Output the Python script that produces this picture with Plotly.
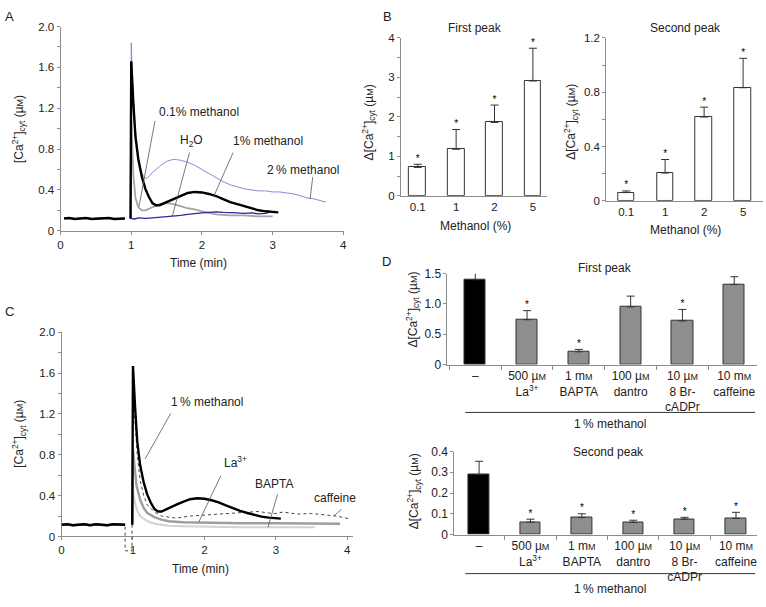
import plotly.graph_objects as go

W, H = 766, 607
FONT = "Liberation Sans, Arial, Helvetica, sans-serif"
AX = "#8c8c8c"
TXT = "#222222"
SM = "<span style='font-size:9px'>M</span>"

# ---------------- Panel A data ----------------
A_base_t = [0.05, 0.12, 0.2, 0.28, 0.36, 0.44, 0.52, 0.6, 0.68, 0.76, 0.84, 0.91]
A_base_v = [0.12, 0.125, 0.115, 0.12, 0.125, 0.115, 0.12, 0.12, 0.125, 0.115, 0.12, 0.12]

A_m2_t = [0.99, 1.0, 1.02, 1.05, 1.1, 1.15, 1.2, 1.25, 1.3, 1.4, 1.5, 1.6, 1.7, 1.8, 1.9, 2.0,
          2.1, 2.2, 2.3, 2.4, 2.5, 2.6, 2.7, 2.8, 2.9, 3.0, 3.1, 3.2, 3.3, 3.4, 3.5, 3.6, 3.75]
A_m2_v = [0.12, 1.84, 1.45, 1.05, 0.72, 0.56, 0.51, 0.53, 0.57, 0.63, 0.68, 0.70, 0.69, 0.67, 0.64, 0.60,
          0.56, 0.52, 0.48, 0.45, 0.43, 0.41, 0.40, 0.39, 0.39, 0.38, 0.38, 0.37, 0.36, 0.34, 0.32, 0.31, 0.28]

A_m01_t = [0.99, 1.0, 1.03, 1.06, 1.1, 1.15, 1.2, 1.3, 1.4, 1.5, 1.6, 1.7, 1.8, 1.9, 2.0, 2.2, 2.4, 2.6, 2.8, 3.0]
A_m01_v = [0.12, 1.10, 0.55, 0.32, 0.23, 0.20, 0.20, 0.23, 0.26, 0.27, 0.26, 0.24, 0.22, 0.21, 0.19, 0.16, 0.15, 0.15, 0.14, 0.14]

A_h2o_t = [0.985, 1.05, 1.1, 1.2, 1.3, 1.4, 1.5, 1.6, 1.7, 1.8, 1.9, 2.0, 2.1, 2.2, 2.3, 2.4, 2.5, 2.6, 2.7, 2.8, 2.9, 2.95]
A_h2o_v = [0.12, 0.115, 0.125, 0.12, 0.125, 0.13, 0.135, 0.14, 0.15, 0.16, 0.17, 0.175, 0.18, 0.185, 0.18, 0.18,
           0.175, 0.17, 0.175, 0.165, 0.17, 0.18]

A_m1_t = [0.99, 1.0, 1.03, 1.06, 1.1, 1.15, 1.2, 1.25, 1.3, 1.35, 1.4, 1.5, 1.6, 1.7, 1.8, 1.9, 2.0, 2.1,
          2.2, 2.3, 2.4, 2.5, 2.6, 2.7, 2.8, 2.9, 3.0, 3.08]
A_m1_v = [0.12, 1.66, 1.25, 0.92, 0.70, 0.53, 0.41, 0.33, 0.27, 0.25, 0.25, 0.28, 0.31, 0.34, 0.37, 0.38, 0.375, 0.36,
          0.34, 0.31, 0.28, 0.26, 0.24, 0.22, 0.20, 0.19, 0.185, 0.18]

A_labels = ["0.1% methanol", "H<sub>2</sub>O", "1% methanol", "2\u2009% methanol"]
A_label_t = [1.96, 1.85, 2.93, 3.43]
A_label_v = [1.16, 0.88, 0.88, 0.59]
A_lead_from = [(1.34, 1.09), (1.83, 0.78), (2.45, 0.78), (3.57, 0.54)]
A_lead_to = [(1.11, 0.24), (1.58, 0.14), (2.17, 0.34), (3.53, 0.31)]

# ---------------- Panel B data ----------------
B_cats = ["0.1", "1", "2", "5"]
B1_mean = [0.72, 1.18, 1.86, 2.91]
B1_err = [0.08, 0.50, 0.44, 0.83]
B2_mean = [0.06, 0.204, 0.617, 0.833]
B2_err = [0.012, 0.10, 0.073, 0.217]

# ---------------- Panel C data ----------------
C_base_t = [0.0, 0.08, 0.16, 0.24, 0.32, 0.4, 0.48, 0.56, 0.64, 0.72, 0.8, 0.89]
C_base_v = [0.115, 0.12, 0.11, 0.115, 0.12, 0.11, 0.12, 0.115, 0.11, 0.12, 0.115, 0.115]

C_m1_t = [0.99, 1.0, 1.03, 1.06, 1.1, 1.15, 1.2, 1.25, 1.3, 1.35, 1.4, 1.5, 1.6, 1.7, 1.8, 1.9, 2.0, 2.1,
          2.2, 2.3, 2.4, 2.5, 2.6, 2.7, 2.8, 2.9, 3.0, 3.07]
C_m1_v = [0.115, 1.67, 1.26, 0.93, 0.70, 0.53, 0.41, 0.33, 0.27, 0.245, 0.245, 0.28, 0.31, 0.34, 0.365, 0.375, 0.37, 0.355,
          0.335, 0.305, 0.275, 0.25, 0.23, 0.21, 0.195, 0.185, 0.18, 0.175]
C_la_t = [0.99, 1.0, 1.02, 1.05, 1.1, 1.15, 1.2, 1.3, 1.4, 1.5, 1.7, 2.0, 2.5, 3.0, 3.5, 3.9]
C_la_v = [0.115, 0.86, 0.70, 0.50, 0.36, 0.28, 0.23, 0.19, 0.165, 0.15, 0.14, 0.135, 0.13, 0.13, 0.13, 0.125]
C_bapta_t = [0.99, 1.0, 1.03, 1.06, 1.1, 1.2, 1.3, 1.5, 1.7, 2.0, 2.5, 3.0, 3.55]
C_bapta_v = [0.115, 0.45, 0.32, 0.25, 0.20, 0.15, 0.125, 0.105, 0.10, 0.095, 0.09, 0.09, 0.09]
C_caf_t = [0.89, 0.985, 1.0, 1.03, 1.06, 1.1, 1.15, 1.2, 1.3, 1.4, 1.5, 1.6, 1.8, 2.0, 2.2, 2.4, 2.6,
           2.75, 2.9, 3.0, 3.1, 3.3, 3.5, 3.7, 3.85, 4.05]
C_caf_v = [-0.14, -0.14, 1.43, 1.1, 0.8, 0.55, 0.4, 0.31, 0.24, 0.2, 0.19, 0.18, 0.2, 0.21, 0.22, 0.23, 0.235,
           0.245, 0.23, 0.225, 0.24, 0.22, 0.225, 0.21, 0.2, 0.17]

C_labels = ["1\u2009% methanol", "La<sup>3+</sup>", "BAPTA", "caffeine"]
C_label_t = [2.03, 2.44, 2.97, 3.83]
C_label_v = [1.32, 0.73, 0.51, 0.38]
C_lead_from = [(1.54, 1.22), (2.24, 0.61), (3.03, 0.43), (3.94, 0.28)]
C_lead_to = [(1.17, 0.76), (1.92, 0.14), (2.89, 0.09), (3.81, 0.20)]

# ---------------- Panel D data ----------------
D_cats = ["ctrl", "La", "BAPTA", "dantro", "8Br", "caff"]
D_ticktext = ["\u2013",
              "500 \u00b5" + SM + "<br>La<sup>3+</sup>",
              "1 m" + SM + "<br>BAPTA",
              "100 \u00b5" + SM + "<br>dantro",
              "10 \u00b5" + SM + "<br>8 Br-<br>cADPr",
              "10 m" + SM + "<br>caffeine"]
D1_mean = [1.40, 0.74, 0.21, 0.95, 0.72, 1.32]
D1_err = [0.12, 0.15, 0.04, 0.18, 0.19, 0.13]
D1_star = [False, True, True, False, True, False]
D2_mean = [0.29, 0.06, 0.082, 0.058, 0.074, 0.078]
D2_err = [0.063, 0.014, 0.018, 0.011, 0.009, 0.029]
D2_star = [False, True, True, True, True, True]

# ---------------- helpers ----------------
def fx(p):
    return p / W

def fy(p):
    return 1 - p / H

def xdom(a, b):
    return [fx(a), fx(b)]

def ydom(top, bottom):
    return [fy(bottom), fy(top)]

fig = go.Figure()

def trace_line(bt, bv, rt, rv, color, width, xa, ya, dash="solid", gap=True):
    xs = list(bt) + ([None] if gap else []) + list(rt)
    ys = list(bv) + ([None] if gap else []) + list(rv)
    fig.add_trace(go.Scatter(x=xs, y=ys, mode="lines", xaxis=xa, yaxis=ya,
                             line=dict(color=color, width=width, dash=dash),
                             connectgaps=False, hoverinfo="skip"))

# Panel A traces
trace_line(A_base_t, A_base_v, A_m2_t, A_m2_v, "#8a8ad8", 1.0, "x", "y")
trace_line(A_base_t, A_base_v, A_m01_t, A_m01_v, "#a6a6a6", 1.8, "x", "y")
trace_line(A_base_t, A_base_v, A_h2o_t, A_h2o_v, "#2b2b8f", 1.3, "x", "y")
trace_line(A_base_t, A_base_v, A_m1_t, A_m1_v, "#000000", 2.4, "x", "y")

# Panel C traces (drawn on extended hidden axes x7/y7)
trace_line(C_base_t, C_base_v, C_bapta_t, C_bapta_v, "#d2d2d2", 2.0, "x7", "y7")
trace_line(C_base_t, C_base_v, C_la_t, C_la_v, "#9e9e9e", 2.4, "x7", "y7")
trace_line(C_base_t, C_base_v, C_caf_t, C_caf_v, "#444444", 1.0, "x7", "y7", dash="dot", gap=False)
trace_line(C_base_t, C_base_v, C_m1_t, C_m1_v, "#000000", 2.4, "x7", "y7")

err_style = dict(type="data", symmetric=False, color="#333333", thickness=1, width=4)

def bars(cats, means, errs, xa, ya, colors, width):
    fig.add_trace(go.Bar(x=cats, y=means, xaxis=xa, yaxis=ya, width=width,
                         marker=dict(color=colors, line=dict(color="#333333", width=1)),
                         error_y=dict(array=errs, arrayminus=[0] * len(errs), **err_style),
                         hoverinfo="skip"))

def stars(cats, means, errs, flags, xa, ya):
    xs = [c for c, f in zip(cats, flags) if f]
    ys = [m + e for m, e, f in zip(means, errs, flags) if f]
    fig.add_trace(go.Scatter(x=xs, y=ys, mode="text", text=["*"] * len(xs),
                             textposition="top center", xaxis=xa, yaxis=ya,
                             textfont=dict(size=10, color="#000000", family=FONT), hoverinfo="skip"))

bars(B_cats, B1_mean, B1_err, "x2", "y2", "white", 0.44)
stars(B_cats, B1_mean, B1_err, [True] * 4, "x2", "y2")
bars(B_cats, B2_mean, B2_err, "x3", "y3", "white", 0.43)
stars(B_cats, B2_mean, B2_err, [True] * 4, "x3", "y3")

D_colors = ["#000000"] + ["#8e8e8e"] * 5
bars(D_cats, D1_mean, D1_err, "x5", "y5", D_colors, 0.41)
stars(D_cats, D1_mean, D1_err, D1_star, "x5", "y5")
bars(D_cats, D2_mean, D2_err, "x6", "y6", D_colors, 0.40)
stars(D_cats, D2_mean, D2_err, D2_star, "x6", "y6")

base_ax = dict(showgrid=False, zeroline=False, showline=True, linecolor=AX, linewidth=1,
               ticks="outside", tickcolor=AX, ticklen=3, tickwidth=1,
               tickfont=dict(size=11.5, color=TXT, family=FONT), fixedrange=True)

time_ticks = [0, 1, 2, 3, 4]
time_text = ["0", "1", "2", "3", "4"]
ca_ticks = [0, 0.4, 0.8, 1.2, 1.6, 2.0]
ca_text = ["0", "0.4", "0.8", "1.2", "1.6", "2.0"]
minor02 = dict(dtick=0.2, ticks="outside", ticklen=3, tickcolor=AX)

lay = dict(
    width=W, height=H, margin=dict(l=0, r=0, t=0, b=0),
    paper_bgcolor="white", plot_bgcolor="rgba(0,0,0,0)", showlegend=False,
    font=dict(family=FONT, size=12, color=TXT), bargap=0,
    # Panel A
    xaxis=dict(base_ax, domain=xdom(58, 344), range=[0, 4.014], anchor="y",
               tickmode="array", tickvals=time_ticks, ticktext=time_text),
    yaxis=dict(base_ax, domain=ydom(20, 229), range=[0, 2], anchor="x",
               tickmode="array", tickvals=ca_ticks, ticktext=ca_text, minor=minor02),
    # Panel B first peak
    xaxis2=dict(base_ax, domain=xdom(401, 548), range=[-0.44, 3.36], anchor="y2",
                type="category", ticks=""),
    yaxis2=dict(base_ax, domain=ydom(31.7, 193.3), range=[0, 4], anchor="x2",
                tickmode="array", tickvals=[0, 1, 2, 3, 4], ticktext=["0", "1", "2", "3", "4"],
                minor=dict(dtick=0.5, ticks="outside", ticklen=3, tickcolor=AX)),
    # Panel B second peak
    xaxis3=dict(base_ax, domain=xdom(608, 766), range=[-0.51, 3.51], anchor="y3",
                type="category", ticks=""),
    yaxis3=dict(base_ax, domain=ydom(31.7, 198.3), range=[0, 1.2], anchor="x3",
                tickmode="array", tickvals=[0, 0.4, 0.8, 1.2], ticktext=["0", "0.4", "0.8", "1.2"],
                minor=minor02),
    # Panel C visible axes
    xaxis4=dict(base_ax, domain=xdom(59, 353), range=[0, 4.0833], anchor="y4",
                tickmode="array", tickvals=time_ticks, ticktext=time_text),
    yaxis4=dict(base_ax, domain=ydom(333, 542), range=[0, 2], anchor="x4",
                tickmode="array", tickvals=ca_ticks, ticktext=ca_text, minor=minor02),
    # Panel C hidden extended axes carrying the traces
    xaxis7=dict(domain=xdom(59, 353), range=[0, 4.0833], anchor="y7", visible=False, fixedrange=True),
    yaxis7=dict(domain=ydom(333, 562), range=[-(562 - 542) / 104.5, 2], anchor="x7", visible=False,
                fixedrange=True),
    # Panel D first peak
    xaxis5=dict(base_ax, domain=xdom(448, 760), range=[-0.536, 5.44], anchor="y5",
                type="category", tickmode="array", tickvals=D_cats, ticktext=D_ticktext,
                tickson="boundaries", ticklen=4, tickangle=0,
                tickfont=dict(size=12, color=TXT, family=FONT)),
    yaxis5=dict(base_ax, domain=ydom(273, 366), range=[0, 1.5], anchor="x5",
                tickmode="array", tickvals=[0, 0.5, 1.0, 1.5], ticktext=["0", "0.5", "1.0", "1.5"],
                tickfont=dict(size=12, color=TXT, family=FONT)),
    # Panel D second peak
    xaxis6=dict(base_ax, domain=xdom(455, 760), range=[-0.48, 5.41], anchor="y6",
                type="category", tickmode="array", tickvals=D_cats, ticktext=D_ticktext,
                tickson="boundaries", ticklen=4, tickangle=0,
                tickfont=dict(size=12, color=TXT, family=FONT)),
    yaxis6=dict(base_ax, domain=ydom(455, 540), range=[0, 0.4], anchor="x6",
                tickmode="array", tickvals=[0, 0.1, 0.2, 0.3, 0.4],
                ticktext=["0", "0.1", "0.2", "0.3", "0.4"],
                tickfont=dict(size=12, color=TXT, family=FONT)),
)
fig.update_layout(**lay)

ann = []

def paper_text(text, x, y, size=12, angle=0, xanchor="center"):
    ann.append(dict(text=text, x=fx(x), y=fy(y), xref="paper", yref="paper", showarrow=False,
                    xanchor=xanchor, yanchor="middle", textangle=angle,
                    font=dict(size=size, color=TXT, family=FONT)))

# panel letters
paper_text("A", 7, 10, 13)
paper_text("B", 388, 10, 13)
paper_text("C", 7, 312, 13)
paper_text("D", 387, 260, 13)

ca_title = "[Ca<sup>2+</sup>]<sub>cyt</sub> (\u00b5" + SM + ")"
dca_title = "\u0394[Ca<sup>2+</sup>]<sub>cyt</sub> (\u00b5" + SM + ")"
paper_text(ca_title, 16, 125, 12, -90)
paper_text(ca_title, 16, 437, 12, -90)
paper_text(dca_title, 369, 118, 12, -90)
paper_text(dca_title, 573, 118, 12, -90)
paper_text(dca_title, 413, 310, 12, -90)
paper_text(dca_title, 414, 496, 12, -90)

paper_text("Time (min)", 197, 262)
paper_text("Time (min)", 199, 575)
paper_text("Methanol (%)", 476, 224)
paper_text("Methanol (%)", 688, 228)
paper_text("First peak", 476, 21)
paper_text("Second peak", 688, 21)
paper_text("First peak", 607, 267)
paper_text("Second peak", 610, 456)
paper_text("1\u2009% methanol", 612, 427)
paper_text("1\u2009% methanol", 612, 596)

def curve_labels(labels, lt, lv, lfrom, lto, xr, yr):
    for t, x0, y0, a, b in zip(labels, lt, lv, lfrom, lto):
        ann.append(dict(text=t, x=x0, y=y0, xref=xr, yref=yr, showarrow=False,
                        font=dict(size=12, color=TXT, family=FONT)))
        ann.append(dict(text="", x=b[0], y=b[1], ax=a[0], ay=a[1], xref=xr, yref=yr,
                        axref=xr, ayref=yr, showarrow=True, arrowhead=0, arrowwidth=0.8,
                        arrowcolor="#555555", standoff=0, startstandoff=0))

curve_labels(A_labels, A_label_t, A_label_v, A_lead_from, A_lead_to, "x", "y")
curve_labels(C_labels, C_label_t, C_label_v, C_lead_from, C_lead_to, "x4", "y4")

fig.update_layout(annotations=ann)

# group lines under panel D categories
fig.add_shape(type="line", xref="paper", yref="paper", x0=fx(466), x1=fx(758), y0=fy(415), y1=fy(415),
              line=dict(color="#333333", width=1))
fig.add_shape(type="line", xref="paper", yref="paper", x0=fx(466), x1=fx(758), y0=fy(580), y1=fy(580),
              line=dict(color="#333333", width=1))

fig.write_html("out.html", config={"displayModeBar": False},
               post_script="document.body.style.margin='0';")
